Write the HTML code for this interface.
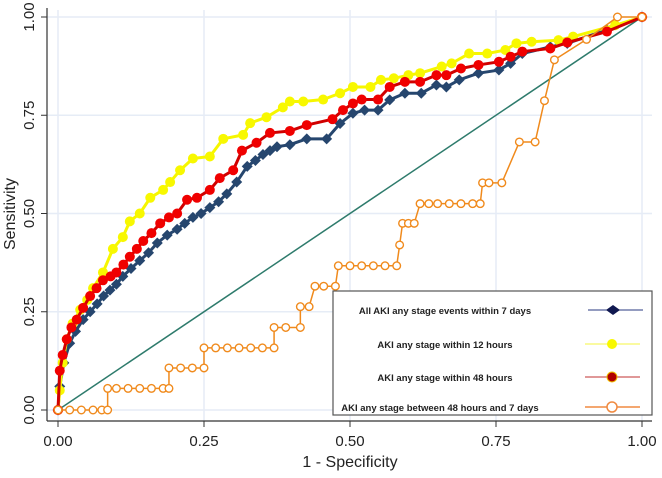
<!DOCTYPE html>
<html><head><meta charset="utf-8"><style>
body{margin:0;background:#fff}
svg text{font-family:"Liberation Sans",sans-serif}
</style></head><body>
<svg id="c" width="662" height="473" viewBox="0 0 662 473"></svg>
<script>
const xTicks=[0,0.25,0.5,0.75,1];
const xTickLabels=["0.00","0.25","0.50","0.75","1.00"];
const yTicks=[0,0.25,0.5,0.75,1];
const yTickLabels=["0.00","0.25","0.50","0.75","1.00"];
const blueFpr=[0,0.003,0.01,0.02,0.03,0.043,0.055,0.067,0.078,0.089,0.1,0.111,0.125,0.14,0.155,0.17,0.187,0.204,0.217,0.231,0.245,0.26,0.275,0.289,0.306,0.324,0.338,0.351,0.363,0.375,0.397,0.426,0.46,0.483,0.505,0.525,0.548,0.568,0.594,0.622,0.648,0.665,0.687,0.72,0.755,0.775,0.795,0.843,0.872,0.94,1];
const blueTpr=[0,0.06,0.12,0.17,0.2,0.23,0.25,0.27,0.29,0.305,0.32,0.34,0.36,0.38,0.4,0.425,0.445,0.46,0.475,0.49,0.5,0.515,0.53,0.55,0.58,0.62,0.635,0.65,0.66,0.67,0.675,0.69,0.69,0.729,0.755,0.763,0.763,0.789,0.806,0.806,0.827,0.822,0.84,0.857,0.865,0.882,0.907,0.924,0.933,0.967,1];
const yellowFpr=[0,0.003,0.008,0.015,0.025,0.038,0.05,0.06,0.077,0.094,0.111,0.123,0.14,0.158,0.18,0.192,0.209,0.231,0.26,0.283,0.317,0.329,0.357,0.385,0.397,0.42,0.454,0.483,0.505,0.535,0.553,0.575,0.6,0.62,0.657,0.674,0.704,0.735,0.766,0.785,0.811,0.857,0.882,0.954,1];
const yellowTpr=[0,0.05,0.12,0.18,0.22,0.255,0.28,0.31,0.35,0.41,0.44,0.48,0.5,0.54,0.56,0.58,0.61,0.64,0.645,0.69,0.7,0.73,0.745,0.77,0.785,0.785,0.79,0.806,0.822,0.822,0.84,0.844,0.852,0.857,0.874,0.882,0.907,0.907,0.916,0.933,0.937,0.941,0.95,0.979,1];
const redFpr=[0,0.003,0.008,0.015,0.023,0.032,0.043,0.055,0.066,0.077,0.09,0.1,0.112,0.123,0.135,0.146,0.16,0.175,0.19,0.204,0.221,0.238,0.26,0.277,0.3,0.315,0.34,0.363,0.397,0.426,0.47,0.488,0.505,0.52,0.548,0.568,0.594,0.62,0.648,0.665,0.69,0.72,0.755,0.775,0.795,0.843,0.872,0.94,1];
const redTpr=[0,0.1,0.14,0.18,0.21,0.23,0.26,0.29,0.31,0.33,0.34,0.35,0.37,0.39,0.41,0.43,0.45,0.475,0.49,0.5,0.535,0.54,0.56,0.59,0.61,0.66,0.68,0.705,0.71,0.725,0.74,0.763,0.78,0.79,0.79,0.822,0.835,0.835,0.852,0.852,0.869,0.878,0.886,0.899,0.912,0.92,0.935,0.963,1];
const orangeFpr=[0,0.02,0.04,0.06,0.075,0.085,0.085,0.1,0.12,0.14,0.16,0.18,0.19,0.19,0.21,0.23,0.25,0.25,0.27,0.29,0.31,0.33,0.35,0.37,0.37,0.39,0.415,0.415,0.43,0.44,0.455,0.475,0.48,0.5,0.52,0.54,0.56,0.58,0.585,0.59,0.6,0.61,0.62,0.635,0.65,0.67,0.69,0.71,0.723,0.727,0.738,0.76,0.79,0.817,0.833,0.85,0.905,0.958,1];
const orangeTpr=[0,0,0,0,0,0,0.055,0.055,0.055,0.055,0.055,0.055,0.055,0.107,0.107,0.107,0.107,0.158,0.158,0.158,0.158,0.158,0.158,0.158,0.21,0.21,0.21,0.263,0.263,0.315,0.315,0.315,0.367,0.367,0.367,0.367,0.367,0.367,0.42,0.475,0.475,0.475,0.525,0.525,0.525,0.525,0.525,0.525,0.525,0.578,0.578,0.578,0.682,0.682,0.787,0.891,0.943,1,1];
const legendLabels=["All AKI any stage events within 7 days","AKI any stage within 12 hours","AKI any stage within 48 hours","AKI any stage between 48 hours and 7 days"];

const NS="http://www.w3.org/2000/svg";
const svg=document.getElementById('c');
const X0=58,X1=642,Y0=410,Y1=17;
const sx=v=>X0+v*(X1-X0), sy=v=>Y0-v*(Y0-Y1);
function mk(tag,attrs,parent){const e=document.createElementNS(NS,tag);for(const k in attrs)e.setAttribute(k,attrs[k]);(parent||svg).appendChild(e);return e;}

xTicks.forEach(t=>{const l=mk('line',{x1:sx(t),x2:sx(t),y1:10,y2:421,stroke:'#e6ecf6','stroke-width':1.5});

});
yTicks.forEach(t=>{const l=mk('line',{x1:47,x2:652,y1:sy(t),y2:sy(t),stroke:'#e6ecf6','stroke-width':1.5});

});
const ya=mk('line',{x1:47,x2:47,y1:8,y2:421,stroke:'#333','stroke-width':1.2});


const xa=mk('line',{x1:47,x2:652,y1:421,y2:421,stroke:'#333','stroke-width':1.2});


xTicks.forEach((t,i)=>{mk('line',{x1:sx(t),x2:sx(t),y1:421,y2:427,stroke:'#333'});
const tx=mk('text',{x:sx(t),y:446,'text-anchor':'middle','font-size':15,fill:'#222'});tx.textContent=xTickLabels[i];

});
yTicks.forEach((t,i)=>{mk('line',{x1:41,x2:47,y1:sy(t),y2:sy(t),stroke:'#333'});
const tx=mk('text',{x:0,y:0,'text-anchor':'middle','font-size':15,fill:'#222',transform:`translate(34,${sy(t)}) rotate(-90)`});tx.textContent=yTickLabels[i];

});
const xt=mk('text',{x:350,y:467,'text-anchor':'middle','font-size':16,fill:'#222'});xt.textContent='1 - Specificity';


const yt=mk('text',{x:0,y:0,'text-anchor':'middle','font-size':16,fill:'#222',transform:'translate(15,214) rotate(-90)'});yt.textContent='Sensitivity';


const dg=mk('line',{x1:sx(0),y1:sy(0),x2:sx(1),y2:sy(1),stroke:'#2e7b6c','stroke-width':1.5});



function series(name,fx,ty,color,marker,w){
 const g=mk('g',{});
 
 
 mk('polyline',{points:fx.map((v,i)=>sx(v)+','+sy(ty[i])).join(' '),fill:'none',stroke:color,'stroke-width':w||1.5,'stroke-linejoin':'round'},g);
 fx.forEach((v,i)=>{marker(g,sx(v),sy(ty[i]));});
}
const diamond=c=>(g,x,y)=>mk('polygon',{points:`${x},${y-5.5} ${x+5.5},${y} ${x},${y+5.5} ${x-5.5},${y}`,fill:c},g);
const dot=(c)=>(g,x,y)=>mk('circle',{cx:x,cy:y,r:5,fill:c},g);
series('series-all-aki-7days',blueFpr,blueTpr,'#26466e',diamond('#26466e'),3);
series('series-aki-12h',yellowFpr,yellowTpr,'#f6f600',dot('#f8f800'),3);
series('series-aki-48h',redFpr,redTpr,'#d00000',dot('#f00000'),3);
series('series-aki-48h-7d',orangeFpr,orangeTpr,'#f08a1c',(g,x,y)=>mk('circle',{cx:x,cy:y,r:3.8,fill:'#fff',stroke:'#f08a1c','stroke-width':1.4},g));

const lg=mk('g',{});


mk('rect',{x:333,y:291,width:319,height:124,fill:'#fff',stroke:'#555','stroke-width':1.2},lg);
const rowsY=[310,344,377,407];
const lx=[445,445,445,440];
legendLabels.forEach((t,i)=>{
 const tx=mk('text',{x:lx[i],y:rowsY[i]+4,'text-anchor':'middle','font-size':9.5,'font-weight':'bold',fill:'#222','font-family':'Liberation Serif,serif'},lg);
 tx.textContent=t;
 
 
});
mk('line',{x1:588,x2:643,y1:rowsY[0],y2:rowsY[0],stroke:'#2a3a80'},lg);
mk('polygon',{points:`613,${rowsY[0]-5} 620,${rowsY[0]} 613,${rowsY[0]+5} 606,${rowsY[0]}`,fill:'#101850'},lg);
mk('line',{x1:585,x2:640,y1:rowsY[1],y2:rowsY[1],stroke:'#f6f640'},lg);
mk('circle',{cx:612,cy:rowsY[1],r:5,fill:'#f8f800'},lg);
mk('line',{x1:585,x2:640,y1:rowsY[2],y2:rowsY[2],stroke:'#c03030'},lg);
mk('circle',{cx:612,cy:rowsY[2],r:5,fill:'#b00000',stroke:'#f0c000'},lg);
mk('line',{x1:585,x2:640,y1:rowsY[3],y2:rowsY[3],stroke:'#f08a40','stroke-width':1.5},lg);
mk('circle',{cx:612,cy:rowsY[3],r:5,fill:'#fff',stroke:'#f08a40','stroke-width':1.5},lg);
</script>
</body></html>
